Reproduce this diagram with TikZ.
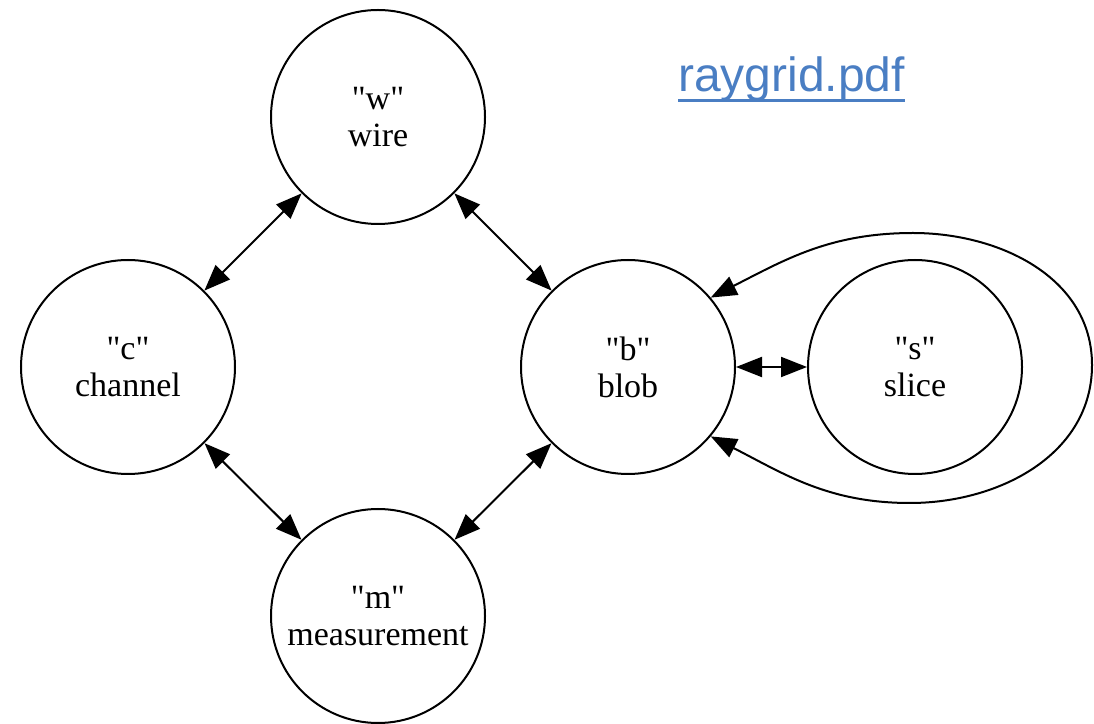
\documentclass[tikz,border=0pt]{standalone}
\usepackage{fontspec}
\setmainfont{Liberation Serif}[Ligatures=TeXOff]
\newfontfamily\linkfont{Liberation Sans}
\usetikzlibrary{arrows.meta}
\definecolor{linkcol}{HTML}{4A7EC3}
\begin{document}
\begin{tikzpicture}[x=1pt,y=1pt,
  state/.style={circle,draw,line width=2pt,minimum size=214pt,inner sep=0pt,align=center,
    font=\fontsize{34}{37}\selectfont},
  dbl/.style={line width=2pt,{Triangle[length=26pt,width=20pt]}-{Triangle[length=26pt,width=20pt]}}]
\useasboundingbox (0,0) rectangle (1094,723);
\node[state] (w) at (378,606) {"w"\\wire};
\node[state] (c) at (128,356) {"c"\\channel};
\node[state] (b) at (628,356) {"b"\\blob};
\node[state] (s) at (915,356) {"s"\\slice};
\node[state] (m) at (378,107) {"m"\\measurement};
\draw[dbl] (w) -- (c);
\draw[dbl] (w) -- (b);
\draw[dbl] (c) -- (m);
\draw[dbl] (b) -- (m);
\draw[dbl] (b) -- (s);
\coordinate (lt) at (913,490);
\coordinate (lr) at (1092,358);
\coordinate (lb) at (910,220);
\draw[dbl] (b.40) to[out=27,in=180] (lt) to[out=0,in=90] (lr) to[out=-90,in=0] (lb) to[out=180,in=-27] (b.-40);
\node[anchor=base west,inner sep=0pt,text=linkcol,font=\linkfont\fontsize{48}{50}\selectfont] (link) at (678,631) {raygrid.pdf};
\draw[linkcol,line width=3pt] ([yshift=-9pt]link.base west) -- ([yshift=-9pt]link.base east);
\end{tikzpicture}
\end{document}
